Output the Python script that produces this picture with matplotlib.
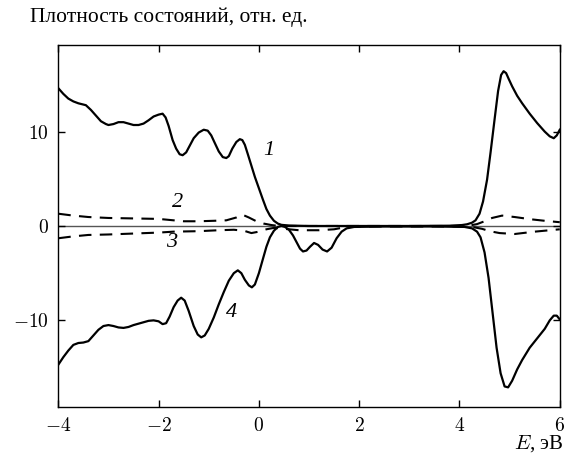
import matplotlib
matplotlib.use("Agg")
import matplotlib.pyplot as plt

plt.rcParams['font.family'] = ['Liberation Serif', 'DejaVu Serif']
plt.rcParams['mathtext.fontset'] = 'cm'

# Curve 1 (spin-up total DOS)
x1 = [-4.0, -3.9, -3.8, -3.7, -3.6, -3.45, -3.35, -3.25, -3.15, -3.05, -3.0, -2.9, -2.8, -2.7, -2.6,
      -2.5, -2.4, -2.3, -2.2, -2.1, -2.0, -1.92, -1.86, -1.8, -1.72, -1.65, -1.58, -1.52, -1.45, -1.38,
      -1.3, -1.2, -1.1, -1.02, -0.95, -0.88, -0.8, -0.72, -0.65, -0.6, -0.53, -0.45, -0.38, -0.33,
      -0.28, -0.22, -0.15, -0.08, 0.0, 0.08, 0.15, 0.22, 0.3, 0.38, 0.45, 0.6, 1.0, 2.0, 3.0, 3.8,
      4.05, 4.15, 4.25, 4.32, 4.4, 4.47, 4.55, 4.62, 4.7, 4.77, 4.83, 4.88, 4.93, 4.98, 5.05, 5.15,
      5.25, 5.4, 5.55, 5.7, 5.8, 5.88, 5.94, 6.0]
y1 = [14.6, 14.0, 13.5, 13.2, 13.0, 12.8, 12.3, 11.7, 11.1, 10.8, 10.7, 10.8, 11.0, 11.0, 10.85,
      10.7, 10.7, 10.85, 11.2, 11.6, 11.8, 11.9, 11.5, 10.6, 9.1, 8.2, 7.6, 7.5, 7.8, 8.5,
      9.3, 9.9, 10.2, 10.1, 9.6, 8.8, 7.9, 7.3, 7.2, 7.4, 8.2, 8.9, 9.2, 9.1,
      8.6, 7.6, 6.4, 5.2, 4.0, 2.8, 1.8, 1.1, 0.55, 0.25, 0.12, 0.05, 0.0, 0.0, 0.0, 0.03,
      0.1, 0.18, 0.35, 0.6, 1.3, 2.6, 4.9, 7.8, 11.3, 14.3, 16.0, 16.4, 16.2, 15.6, 14.8, 13.8,
      13.0, 11.9, 10.9, 10.0, 9.5, 9.3, 9.6, 10.2]

# Curve 4 (spin-down total DOS)
x4 = [-4.0, -3.9, -3.8, -3.7, -3.6, -3.5, -3.4, -3.3, -3.2, -3.1, -3.0, -2.9, -2.8, -2.7, -2.6,
      -2.5, -2.4, -2.3, -2.2, -2.1, -2.0, -1.92, -1.85, -1.78, -1.7, -1.62, -1.55, -1.48, -1.4,
      -1.3, -1.22, -1.15, -1.08, -1.0, -0.9, -0.8, -0.7, -0.6, -0.5, -0.42, -0.35, -0.28, -0.2,
      -0.14, -0.08, 0.0, 0.08, 0.15, 0.22, 0.3, 0.38, 0.45, 0.52, 0.6, 0.68, 0.75, 0.82, 0.88,
      0.95, 1.02, 1.1, 1.18, 1.27, 1.36, 1.45, 1.55, 1.65, 1.75, 1.9, 2.5, 3.5, 4.1, 4.25, 4.35,
      4.42, 4.5, 4.58, 4.66, 4.74, 4.82, 4.9, 4.97, 5.05, 5.15, 5.25, 5.4, 5.55, 5.7, 5.8, 5.88,
      5.94, 6.0]
y4 = [-14.7, -13.9, -13.2, -12.6, -12.4, -12.35, -12.2, -11.6, -11.0, -10.6, -10.5, -10.6, -10.75, -10.8, -10.7,
      -10.5, -10.35, -10.2, -10.05, -10.0, -10.1, -10.4, -10.3, -9.6, -8.6, -7.9, -7.6, -7.9, -9.0,
      -10.6, -11.5, -11.8, -11.6, -10.9, -9.7, -8.3, -7.0, -5.8, -5.0, -4.7, -5.0, -5.7, -6.3,
      -6.5, -6.2, -5.0, -3.5, -2.2, -1.2, -0.5, -0.1, 0.0, -0.1, -0.4, -1.0, -1.7, -2.4, -2.7,
      -2.6, -2.2, -1.8, -2.0, -2.5, -2.7, -2.3, -1.3, -0.6, -0.25, -0.1, -0.05, -0.05, -0.1, -0.25, -0.6,
      -1.2, -2.8, -5.5, -9.2, -12.9, -15.6, -17.0, -17.1, -16.4, -15.2, -14.2, -12.9, -11.9, -10.9, -10.0, -9.5,
      -9.5, -9.9]

# Curve 2 (dashed, up partial)
x2 = [-4.0, -3.7, -3.4, -3.0, -2.5, -2.0, -1.7, -1.5, -1.2, -0.9, -0.65, -0.45, -0.33, -0.2, -0.05,
      0.1, 0.25, 0.4, 0.6, 1.0, 2.0, 3.0, 4.0, 4.2, 4.35, 4.5, 4.65, 4.85, 5.1, 5.44, 5.7, 6.0]
y2 = [1.3, 1.1, 0.95, 0.85, 0.8, 0.75, 0.6, 0.5, 0.5, 0.55, 0.6, 0.9, 1.2, 0.9, 0.5,
      0.25, 0.1, 0.0, 0.0, 0.0, 0.0, 0.0, 0.0, 0.05, 0.2, 0.5, 0.85, 1.1, 0.95, 0.7, 0.55, 0.4]

# Curve 3 (dashed, down partial)
x3 = [-4.0, -3.7, -3.4, -3.0, -2.5, -2.0, -1.7, -1.2, -0.8, -0.5, -0.3, -0.15, 0.0, 0.15, 0.3,
      0.5, 0.8, 1.2, 1.5, 1.7, 2.0, 3.0, 4.0, 4.3, 4.45, 4.6, 4.8, 5.1, 5.5, 6.0]
y3 = [-1.3, -1.1, -0.95, -0.9, -0.8, -0.7, -0.6, -0.55, -0.45, -0.4, -0.5, -0.75, -0.6, -0.35, -0.2,
      -0.3, -0.45, -0.45, -0.35, -0.15, -0.05, -0.05, -0.05, -0.15, -0.3, -0.55, -0.75, -0.85, -0.6, -0.35]

xticks = [-4, -2, 0, 2, 4, 6]
yticks = [-10, 0, 10]

fig = plt.figure(figsize=(5.66, 4.57), dpi=100)
ax = fig.add_axes([0.103, 0.109, 0.886, 0.793])

ax.axhline(0, color='#555555', lw=1.0, zorder=1)
ax.plot(x1, y1, color='black', lw=1.6, zorder=3, solid_joinstyle='round')
ax.plot(x4, y4, color='black', lw=1.6, zorder=3, solid_joinstyle='round')
ax.plot(x2, y2, color='black', lw=1.5, dashes=(6, 4), zorder=2)
ax.plot(x3, y3, color='black', lw=1.5, dashes=(6, 4), zorder=2)

ax.set_xlim(-4, 6)
ax.set_ylim(-19.2, 19.2)
ax.set_xticks(xticks)
ax.set_xticklabels([f'${v}$' if v >= 0 else f'$-{abs(v)}$' for v in xticks])
ax.set_yticks(yticks)
ax.set_yticklabels([f'${v}$' if v >= 0 else f'$-{abs(v)}$' for v in yticks])
ax.tick_params(direction='in', length=5, width=1, top=True, right=True, labelsize=14, pad=7)
for s in ax.spines.values():
    s.set_linewidth(1.0)

for lbl, xx, yy in [('1', 0.2, 8.0), ('2', -1.62, 2.5), ('3', -1.74, -1.8), ('4', -0.55, -9.2)]:
    ax.text(xx, yy, lbl, fontsize=16, fontstyle='italic', ha='center', va='center')

fig.text(0.053, 0.962, 'Плотность состояний, отн. ед.', fontsize=15.5, ha='left', va='center')
fig.text(0.995, 0.03, '$E$, эВ', fontsize=15, ha='right', va='center')

fig.savefig('out.png', dpi=100)
